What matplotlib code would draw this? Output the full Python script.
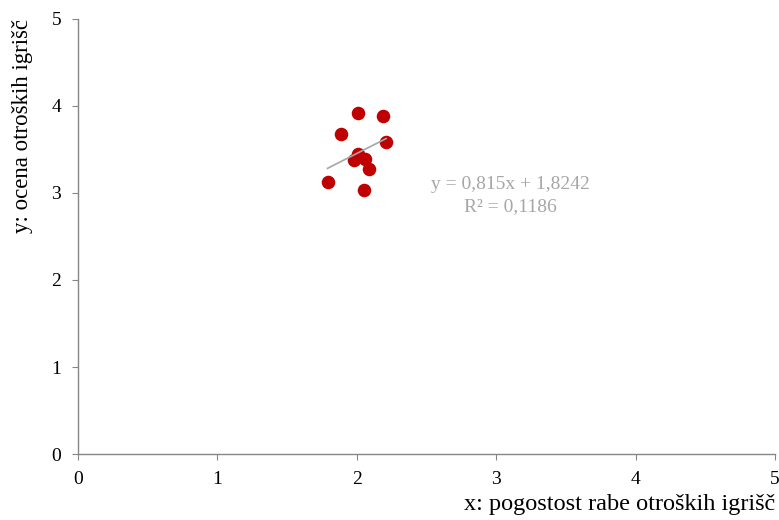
import matplotlib.pyplot as plt
import numpy as np

plt.rcParams['font.family'] = ['Liberation Serif', 'DejaVu Serif']

# Podatki
x_raba = [2.01, 2.19, 1.89, 2.21, 2.01, 1.98, 2.06, 2.09, 1.79, 2.05]
y_ocena = [3.92, 3.89, 3.68, 3.59, 3.45, 3.38, 3.39, 3.28, 3.13, 3.04]
naklon = 0.815
presecisce = 1.8242
enacba = 'y = 0,815x + 1,8242\nR² = 0,1186'

fig = plt.figure(figsize=(7.79, 5.2), dpi=100)
ax = fig.add_axes([0.1001, 0.1269, 0.8948, 0.8366])

ax.scatter(x_raba, y_ocena, s=95, color='#c00000', zorder=3, linewidths=0)

xt = np.array([min(x_raba), max(x_raba)])
ax.plot(xt, naklon * xt + presecisce, color='#a6a6a6', linewidth=1.2, zorder=4)

ax.text(3.1, 2.97, enacba, color='#a6a6a6', fontsize=14, ha='center',
        va='center', linespacing=1.4)

ax.set_xlim(0, 5)
ax.set_ylim(0, 5)
ax.set_xticks(range(6))
ax.set_yticks(range(6))
for s in ['top', 'right']:
    ax.spines[s].set_visible(False)
for s in ['left', 'bottom']:
    ax.spines[s].set_color('#868686')
    ax.spines[s].set_linewidth(1)
ax.tick_params(colors='#868686', labelcolor='black', labelsize=14, length=4,
               direction='out', pad=8)

fig.text(0.9949, 0.01, 'x: pogostost rabe otroških igrišč', ha='right',
         va='bottom', fontsize=17.5)
fig.text(0.016, 0.9635, 'y: ocena otroških igrišč', rotation=90, ha='left',
         va='top', fontsize=16.5)

fig.savefig('out.png', dpi=100)
